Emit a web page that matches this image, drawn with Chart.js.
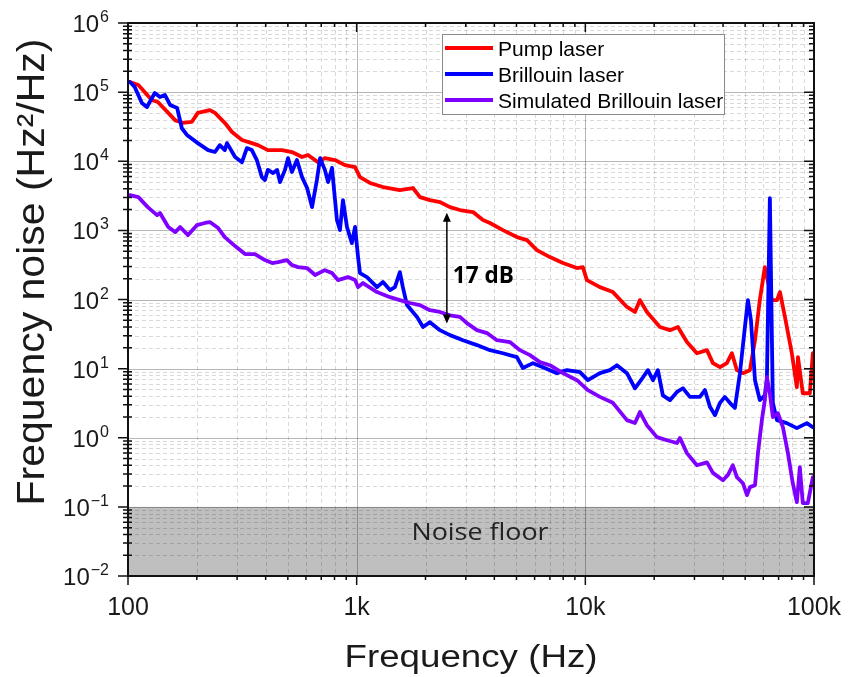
<!DOCTYPE html>
<html>
<head>
<meta charset="utf-8">
<title>Frequency noise spectra</title>
<script src="https://cdn.jsdelivr.net/npm/chart.js@4.4.1/dist/chart.umd.min.js"></script>
<style>
  html, body { margin: 0; padding: 0; background: #fff; }
  #wrap { width: 849px; height: 677px; position: relative; }
</style>
</head>
<body>
<div id="wrap"><canvas id="noiseChart"></canvas></div>
<script>
// Values: frequency (Hz) and frequency noise (Hz^2/Hz)
const pumpFreq = [102,111,127,135,150,161,174,190,202,228,240,265,285,315,348,370,409,471,521,577,612,677,726,804,889,984,1034,1143,1303,1545,1762,1892,2091,2312,2558,2829,3226,3566,3828,4361,5020,5559,6140,6998,7983,9191,9753,10160,11580,13200,15200,16480,17330,18590,21180,23440,25400,27810,30760,34030,36140,38810,41590,43760,46000,48870,52460,55210,57940,60950,65460,68870,70970,74640,80000,84140,85080,89330,95890,98850];
const pumpNoise = [1.4e5,1.27e5,7.7e4,7.2e4,5.0e4,3.9e4,3.6e4,3.7e4,5.0e4,5.5e4,5.0e4,3.6e4,2.65e4,2.03e4,1.83e4,1.71e4,1.45e4,1.45e4,1.36e4,1.15e4,1.23e4,9.7e3,1.11e4,1.04e4,8.8e3,8.2e3,5.9e3,4.85e3,4.24e3,3.83e3,4.1e3,3.03e3,2.74e3,2.57e3,2.17e3,1.97e3,1.84e3,1.41e3,1.28e3,1.01e3,800,724,519,411,337,285,294,191,151,128,78,66,98,66,40,36,40,24.2,16.7,18.5,12.0,10.5,12.0,16.7,9.5,8.6,9.5,25.8,98,294,98,98,128,56,16.7,5.4,14.7,4.4,4.4,16.7];

const brillFreq = [102,107,115,121,131,138,145,153,164,172,181,202,224,240,252,265,271,294,315,331,348,366,385,397,409,431,449,462,486,501,521,548,577,607,638,670,692,726,750,780,820,845,871,907,953,984,1014,1034,1109,1143,1227,1303,1399,1470,1545,1592,1660,1836,1950,2091,2312,2558,2917,3357,3828,4361,5020,5333,5902,6526,7513,8313,9468,10260,11580,12810,13740,15200,16480,17870,18780,19760,20760,21830,23440,25160,26720,28660,31690,33340,35070,36890,38810,40740,42850,45080,47430,49880,51400,53000,55210,57940,60950,62230,64120,66070,68870,76030,84140,93070,98850];
const brillNoise = [1.4e5,1.19e5,6.95e4,6.1e4,9.7e4,8.5e4,9.1e4,6.5e4,5.9e4,3.0e4,2.4e4,1.83e4,1.45e4,1.36e4,1.71e4,1.45e4,1.83e4,1.15e4,9.7e3,1.55e4,1.45e4,1.04e4,5.9e3,5.35e3,7.5e3,6.75e3,7.5e3,5.0e3,7.5e3,1.11e4,7.0e3,1.04e4,5.9e3,4.1e3,2.17e3,5.35e3,1.11e4,7.5e3,5.0e3,8.0e3,1.41e3,1.01e3,2.74e3,1.12e3,655,1.12e3,411,241,211,191,151,179,137,151,249,151,83,56,40,47,36,30.5,25.8,21.9,18.5,16.7,14.7,10.2,12.0,10.5,8.6,9.5,8.9,6.8,8.6,9.5,11.2,8.6,5.2,7.5,9.5,6.8,9.5,4.1,3.5,4.6,5.2,3.9,3.9,4.9,2.8,2.12,3.2,3.9,3.2,2.7,8.6,40,98,50,6.8,3.5,4.1,6.8,2930,3.2,1.8,1.63,1.38,1.63,1.42];

const simFreq = [102,111,122,134,138,150,161,169,183,200,217,228,248,265,294,325,359,397,427,453,496,521,554,607,658,726,780,828,916,984,1014,1066,1227,1399,1545,1710,1892,2091,2312,2558,2829,3034,3357,3715,4105,4677,5176,5727,6329,6998,7983,9191,10260,11580,13200,15200,16480,17330,18590,20560,22740,25160,25930,27810,30760,34030,36140,39990,42050,44170,46000,48870,50930,52460,55210,56880,59160,60950,62230,64120,66070,69500,73110,76910,80750,84140,86700,89330,93970,98850];
const simNoise = [3240,3030,2170,1660,1780,1120,944,1120,855,1190,1280,1320,1080,800,593,454,454,372,337,348,372,315,294,285,226,266,241,191,211,191,151,173,128,108,98,89,83,70,66,59,56,45.5,36,32.7,25.8,24.2,18.5,15.7,12.4,11.2,8.6,6.8,4.9,3.9,3.2,1.8,1.63,2.35,1.52,1.02,0.92,0.84,0.99,0.60,0.40,0.44,0.31,0.243,0.29,0.40,0.27,0.22,0.148,0.193,0.206,0.60,1.8,3.5,7.5,4.4,1.99,2.27,1.42,0.60,0.22,0.117,0.376,0.113,0.113,0.27];

const seriesLabels = ["Pump laser", "Brillouin laser", "Simulated Brillouin laser"];
const seriesColors = ["#ff0000", "#0000ff", "#8000ff"];

// axis ticks
const xMin = 100, xMax = 100000;
const yMin = 0.01, yMax = 1e6;
const xTickValues = [100, 1000, 10000, 100000];
const xTickLabels = ["100", "1k", "10k", "100k"];
const yTickExponents = [-2, -1, 0, 1, 2, 3, 4, 5, 6];

// annotations
const noiseFloorLevel = 0.1;
const arrowFreq = 2480;
const arrowTop = 1800;
const arrowBottom = 45;
const gapLabel = "17 dB";

function toPoints(xs, ys) {
    return xs.map((x, i) => ({ x: x, y: ys[i] }));
}

function logMinorValues(min, max) {
    let major = [], minor = [];
    for (let e = Math.round(Math.log10(min)); e <= Math.round(Math.log10(max)); e++) {
        major.push(Math.pow(10, e));
        for (let m = 2; m <= 9; m++) {
            let v = m * Math.pow(10, e);
            if (v < max) minor.push(v);
        }
    }
    return { major: major, minor: minor };
}

// draw text squeezed/stretched to a given width (width 0 = natural)
function fitText(ctx, text, x, y, font, width, align) {
    ctx.save();
    ctx.font = font;
    let w = ctx.measureText(text).width;
    let sx = width ? width / w : 1;
    ctx.translate(x, y);
    ctx.scale(sx, 1);
    ctx.textAlign = align || "left";
    ctx.fillText(text, 0, 0);
    ctx.restore();
}

const decorPlugin = {
    id: "decor",
    beforeDatasetsDraw(chart) {
        const ctx = chart.ctx;
        const a = chart.chartArea;
        const xs = chart.scales.x, ys = chart.scales.y;

        // noise floor band
        let yTop = ys.getPixelForValue(noiseFloorLevel);
        let yBot = ys.getPixelForValue(yMin);
        ctx.save();
        ctx.fillStyle = "#bfbfbf";
        ctx.fillRect(a.left, yTop, a.right - a.left, yBot - yTop);

        // grid lines
        let gx = logMinorValues(xMin, xMax), gy = logMinorValues(yMin, yMax);
        ctx.lineWidth = 1;
        ctx.setLineDash([4, 3]);
        ctx.strokeStyle = "rgba(0,0,0,0.15)";
        ctx.beginPath();
        gx.minor.forEach(v => {
            let p = Math.round(xs.getPixelForValue(v)) + 0.5;
            ctx.moveTo(p, a.top); ctx.lineTo(p, a.bottom);
        });
        gy.minor.forEach(v => {
            let p = Math.round(ys.getPixelForValue(v)) + 0.5;
            ctx.moveTo(a.left, p); ctx.lineTo(a.right, p);
        });
        ctx.stroke();
        ctx.setLineDash([]);
        ctx.strokeStyle = "rgba(0,0,0,0.28)";
        ctx.beginPath();
        gx.major.forEach(v => {
            let p = Math.round(xs.getPixelForValue(v)) + 0.5;
            ctx.moveTo(p, a.top); ctx.lineTo(p, a.bottom);
        });
        gy.major.forEach(v => {
            let p = Math.round(ys.getPixelForValue(v)) + 0.5;
            ctx.moveTo(a.left, p); ctx.lineTo(a.right, p);
        });
        ctx.stroke();

        // noise floor label
        ctx.fillStyle = "#222";
        fitText(ctx, "Noise floor", 480, 540, "24px 'Open Sans'", 137, "center");
        ctx.restore();
    },
    afterDatasetsDraw(chart) {
        const ctx = chart.ctx;
        const a = chart.chartArea;
        const xs = chart.scales.x, ys = chart.scales.y;
        let gx = logMinorValues(xMin, xMax), gy = logMinorValues(yMin, yMax);

        ctx.save();
        // frame
        ctx.strokeStyle = "#111";
        ctx.lineWidth = 2;
        ctx.strokeRect(a.left, a.top, a.right - a.left, a.bottom - a.top);

        // ticks
        ctx.lineWidth = 1.5;
        ctx.beginPath();
        gx.major.forEach(v => {
            let p = xs.getPixelForValue(v);
            ctx.moveTo(p, a.bottom); ctx.lineTo(p, a.bottom + 9);
            ctx.moveTo(p, a.top); ctx.lineTo(p, a.top + 9);
        });
        gx.minor.forEach(v => {
            let p = xs.getPixelForValue(v);
            ctx.moveTo(p, a.bottom); ctx.lineTo(p, a.bottom + 4);
            ctx.moveTo(p, a.top); ctx.lineTo(p, a.top + 4);
        });
        gy.major.forEach(v => {
            let p = ys.getPixelForValue(v);
            ctx.moveTo(a.left - 10, p); ctx.lineTo(a.left, p);
            ctx.moveTo(a.right - 10, p); ctx.lineTo(a.right, p);
        });
        gy.minor.forEach(v => {
            let p = ys.getPixelForValue(v);
            ctx.moveTo(a.left - 5, p); ctx.lineTo(a.left + 4, p);
            ctx.moveTo(a.right - 5, p); ctx.lineTo(a.right, p);
        });
        ctx.stroke();

        // x tick labels
        ctx.fillStyle = "#1a1a1a";
        ctx.font = "25px 'Liberation Sans', Arial, sans-serif";
        ctx.textAlign = "center";
        ctx.textBaseline = "alphabetic";
        xTickValues.forEach((v, i) => {
            ctx.fillText(xTickLabels[i], xs.getPixelForValue(v), 615);
        });

        // y tick labels 10^n
        yTickExponents.forEach(e => {
            let p = ys.getPixelForValue(Math.pow(10, e));
            let exp = e < 0 ? "\u2212" + (-e) : String(e);
            ctx.font = "16px 'Liberation Sans', Arial, sans-serif";
            let we = ctx.measureText(exp).width;
            ctx.textAlign = "left";
            let right = 109;
            ctx.fillText(exp, right - we, p - 1);
            ctx.font = "24px 'Liberation Sans', Arial, sans-serif";
            ctx.textAlign = "right";
            ctx.fillText("10", right - we - 1, p + 9);
        });

        // axis titles
        fitText(ctx, "Frequency (Hz)", 471, 667, "31px 'Liberation Sans', Arial, sans-serif", 253, "center");
        ctx.save();
        ctx.translate(44, 272);
        ctx.rotate(-Math.PI / 2);
        fitText(ctx, "Frequency noise (Hz\u00b2/Hz)", 0, 0, "39px 'Liberation Sans', Arial, sans-serif", 467, "center");
        ctx.restore();

        // 17 dB arrow
        let ax = xs.getPixelForValue(arrowFreq);
        let at = ys.getPixelForValue(arrowTop);
        let ab = ys.getPixelForValue(arrowBottom);
        ctx.strokeStyle = "#000";
        ctx.fillStyle = "#000";
        ctx.lineWidth = 1.5;
        ctx.beginPath();
        ctx.moveTo(ax, at + 6); ctx.lineTo(ax, ab - 6);
        ctx.stroke();
        ctx.beginPath();
        ctx.moveTo(ax, at); ctx.lineTo(ax - 4, at + 9); ctx.lineTo(ax + 4, at + 9); ctx.closePath();
        ctx.moveTo(ax, ab); ctx.lineTo(ax - 4, ab - 9); ctx.lineTo(ax + 4, ab - 9); ctx.closePath();
        ctx.fill();
        fitText(ctx, gapLabel, ax + 6, 283, "bold 24px 'Open Sans'", 61, "left");

        // legend box
        let lx = 442, ly = 34, lw = 282, lh = 80;
        ctx.fillStyle = "#fff";
        ctx.fillRect(lx, ly, lw, lh);
        ctx.strokeStyle = "#8a8a8a";
        ctx.lineWidth = 1;
        ctx.strokeRect(lx + 0.5, ly + 0.5, lw, lh);
        chart.data.datasets.forEach((ds, i) => {
            let rowY = 48 + i * 26;
            ctx.strokeStyle = ds.borderColor;
            ctx.lineWidth = 4;
            ctx.beginPath();
            ctx.moveTo(445, rowY); ctx.lineTo(493, rowY);
            ctx.stroke();
            ctx.fillStyle = "#000";
            ctx.font = "21px 'Liberation Sans', Arial, sans-serif";
            ctx.textAlign = "left";
            ctx.fillText(ds.label, 498, rowY + 8);
        });
        ctx.restore();
    }
};

let datasets = [
    { label: seriesLabels[0], data: toPoints(pumpFreq, pumpNoise), borderColor: seriesColors[0], order: 3 },
    { label: seriesLabels[1], data: toPoints(brillFreq, brillNoise), borderColor: seriesColors[1], order: 2 },
    { label: seriesLabels[2], data: toPoints(simFreq, simNoise), borderColor: seriesColors[2], order: 1 }
].map(d => Object.assign(d, {
    borderWidth: 3.8,
    pointRadius: 0,
    tension: 0,
    fill: false,
    borderJoinStyle: "round",
    borderCapStyle: "round"
}));

let ctx = document.getElementById("noiseChart").getContext("2d");
new Chart(ctx, {
    type: "line",
    data: { datasets: datasets },
    options: {
        responsive: true,
        maintainAspectRatio: false,
        animation: false,
        devicePixelRatio: 1,
        layout: { padding: { left: 0, top: 23, right: 35, bottom: 0 } },
        plugins: { legend: { display: false }, tooltip: { enabled: false } },
        scales: {
            x: {
                type: "logarithmic", min: xMin, max: xMax,
                grid: { display: false }, border: { display: false },
                ticks: { display: false },
                afterFit: function (scale) { scale.height = 101; }
            },
            y: {
                type: "logarithmic", min: yMin, max: yMax,
                grid: { display: false }, border: { display: false },
                ticks: { display: false },
                afterFit: function (scale) { scale.width = 128; }
            }
        }
    },
    plugins: [decorPlugin]
});
</script>
</body>
</html>
